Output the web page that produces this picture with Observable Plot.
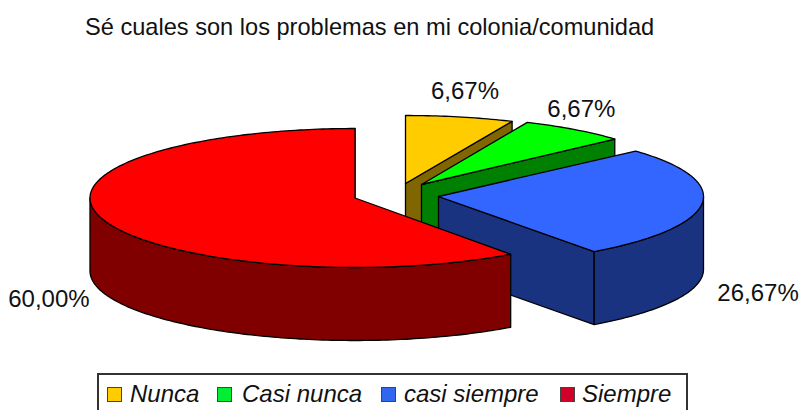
<!DOCTYPE html>
<html>
<head>
<meta charset="utf-8">
<script src="https://cdn.jsdelivr.net/npm/d3@7"></script>
<script src="https://cdn.jsdelivr.net/npm/@observablehq/plot@0.6"></script>
<style>
html,body{margin:0;padding:0;background:#fff;width:800px;height:410px;overflow:hidden;font-family:"Liberation Sans",Arial,sans-serif;color:#111}
#title{height:50px;box-sizing:border-box;padding:13px 0 0 85px;font-size:23.6px;line-height:28px;white-space:nowrap}
#chart{height:320px}
#chart svg{display:block;overflow:visible}
#legend{position:absolute;left:97px;top:373px;width:591px;height:37px;box-sizing:border-box;border:2px solid #333;border-bottom:0;font-style:italic;font-size:24px;line-height:34px}
#legend span{position:absolute;top:2px;white-space:nowrap}
#legend i{position:absolute;top:12px;width:15px;height:15px;border:1.5px solid #444;box-sizing:border-box}
</style>
</head>
<body>
<div id="title"></div>
<div id="chart"></div>
<div id="legend"></div>
<script>
const titleText = "Sé cuales son los problemas en mi colonia/comunidad";
const categories = ["Nunca", "Casi nunca", "casi siempre", "Siempre"];
const values = [6.67, 6.67, 26.67, 60.00];
const valueLabels = ["6,67%", "6,67%", "26,67%", "60,00%"];
const topColors = ["#ffcc00", "#00ff00", "#3366ff", "#ff0000"];
const sideColors = ["#806600", "#008000", "#1a3380", "#800000"];
const legendColors = ["#ffcc00", "#00ee33", "#3366ee", "#d00028"];

// Layout of the exploded 3D pie, in picture pixels
const apexX = [405, 421, 438, 354.5];
const apexY = [183, 184, 196, 197.5];
const radiusX = [262, 260, 265, 265], radiusY = [68, 68, 68, 69.5], depth = 73;
const labelDx = [5, 7, 56, -54], labelDy = [-26, -20, 90, 80];
const legendSwatchX = [8, 118, 282, 461], legendTextX = [31, 143, 305, 483];

const total = d3.sum(values);
let running = 0;
const slices = values.map((v, i) => {
  const start = running / total * 360;
  running += v;
  return {i, start, end: running / total * 360};
});
const rim = (s, a, dz = 0) => {
  const r = a * Math.PI / 180;
  return {x: apexX[s.i] + radiusX[s.i] * Math.sin(r), y: apexY[s.i] - radiusY[s.i] * Math.cos(r) + dz};
};
const arc = (s, a0, a1, dz = 0) => {
  const n = Math.max(1, Math.ceil(Math.abs(a1 - a0)));
  return d3.range(n + 1).map(k => rim(s, a0 + (a1 - a0) * k / n, dz));
};
const poly = (pts, fill) => Plot.line([...pts, pts[0]], {x: "x", y: "y", fill, stroke: "#000", strokeWidth: 1.3, curve: "linear", strokeLinejoin: "round"});

const marks = [];
for (const s of slices) {
  const apex = {x: apexX[s.i], y: apexY[s.i]};
  // cut face at the clockwise end of the slice
  marks.push(poly([apex, rim(s, s.end), rim(s, s.end, depth), {x: apex.x, y: apex.y + depth}], sideColors[s.i]));
  // outer wall, front half only
  const a0 = Math.max(s.start, 90), a1 = Math.min(s.end, 270);
  if (a1 > a0) marks.push(poly([...arc(s, a0, a1), ...arc(s, a1, a0, depth)], sideColors[s.i]));
  // top surface
  marks.push(poly([apex, ...arc(s, s.start, s.end)], topColors[s.i]));
}
for (const s of slices) {
  const mid = rim(s, (s.start + s.end) / 2);
  marks.push(Plot.text([mid], {x: "x", y: "y", text: () => valueLabels[s.i], dx: labelDx[s.i], dy: labelDy[s.i], fontSize: 24, fill: "#111", textAnchor: "middle", fontFamily: "Liberation Sans"}));
}

document.getElementById("title").textContent = titleText;
document.getElementById("chart").append(Plot.plot({
  width: 800, height: 320, margin: 0,
  x: {domain: [0, 800], range: [0, 800], axis: null},
  y: {domain: [50, 370], range: [0, 320], axis: null},
  style: {background: "transparent"},
  marks
}));
const legend = document.getElementById("legend");
categories.forEach((c, i) => {
  const sw = document.createElement("i");
  sw.style.left = legendSwatchX[i] + "px";
  sw.style.background = legendColors[i];
  legend.append(sw);
  const t = document.createElement("span");
  t.style.left = legendTextX[i] + "px";
  t.textContent = c;
  legend.append(t);
});
</script>
</body>
</html>
